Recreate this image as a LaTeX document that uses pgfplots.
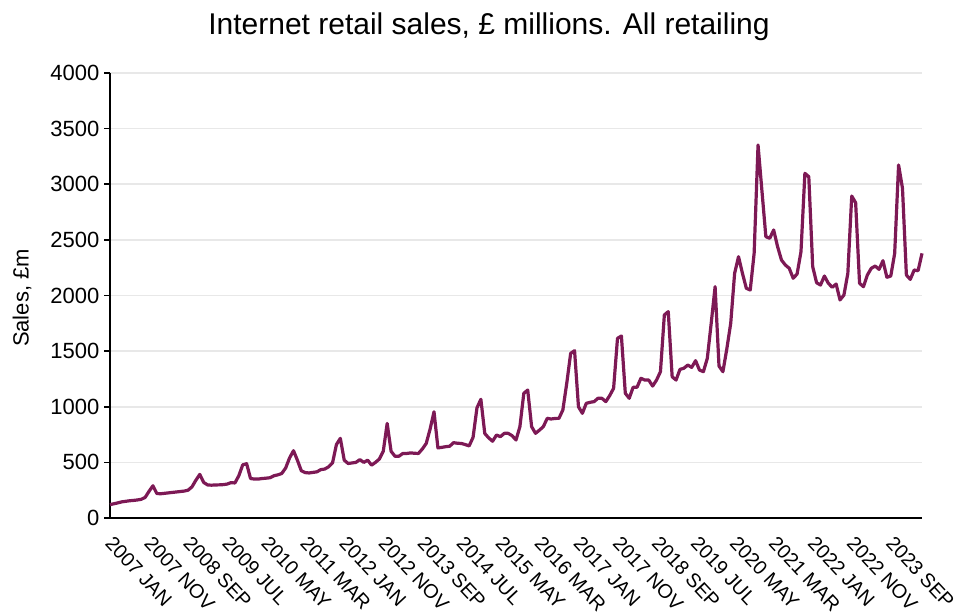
\documentclass[border=0pt]{standalone}
\usepackage{pgfplots}
\pgfplotsset{compat=1.18}
\usepackage{fontspec}
\setmainfont{Liberation Sans}
\definecolor{lineC}{RGB}{125,25,85}
\definecolor{gridC}{RGB}{232,232,232}
\begin{document}
\begin{tikzpicture}
\useasboundingbox (0,0) rectangle (715.5pt,461.25pt);
\begin{axis}[
  at={(82.5pt,72.75pt)}, anchor=south west,
  scale only axis, width=609pt, height=333.75pt,
  xmin=0, xmax=208, ymin=0, ymax=4000,
  clip=false,
  axis x line*=bottom, axis y line*=left,
  axis line style={black, line width=1.6pt, -},
  ytick={0,500,...,4000},
  ymajorgrids, grid style={gridC, line width=1.2pt},
  tick align=outside, major tick length=4.5pt,
  ytick style={black, line width=1.2pt},
  xtick style={draw=none},
  xtick={0,10,...,200},
  xticklabels={2007 JAN,2007 NOV,2008 SEP,2009 JUL,2010 MAY,2011 MAR,2012 JAN,2012 NOV,2013 SEP,2014 JUL,2015 MAY,2016 MAR,2017 JAN,2017 NOV,2018 SEP,2019 JUL,2020 MAY,2021 MAR,2022 JAN,2022 NOV,2023 SEP},
  xticklabel style={rotate=-47, anchor=north west, font=\fontsize{14.8}{16}\selectfont, inner sep=1pt, xshift=7pt, yshift=-2pt},
  yticklabel style={font=\fontsize{16.5}{18}\selectfont},
  /pgf/number format/assume math mode=true,
  /pgf/number format/1000 sep={},
]
\addplot[lineC, line width=2.4pt, line join=round] coordinates {
(0,120) (1,128) (2,136) (3,145) (4,150) (5,155) (6,158) (7,162) (8,168) (9,185) (10,240) (11,290)
(12,220) (13,218) (14,222) (15,226) (16,230) (17,234) (18,238) (19,242) (20,250) (21,280) (22,340) (23,392)
(24,320) (25,297) (26,295) (27,297) (28,298) (29,300) (30,305) (31,318) (32,315) (33,380) (34,478) (35,488)
(36,355) (37,350) (38,350) (39,355) (40,358) (41,362) (42,380) (43,388) (44,400) (45,450) (46,540) (47,605)
(48,520) (49,425) (50,408) (51,405) (52,410) (53,415) (54,435) (55,440) (56,460) (57,495) (58,660) (59,716)
(60,520) (61,490) (62,495) (63,500) (64,525) (65,500) (66,520) (67,475) (68,500) (69,530) (70,600) (71,850)
(72,600) (73,555) (74,555) (75,580) (76,580) (77,585) (78,582) (79,580) (80,620) (81,670) (82,800) (83,955)
(84,630) (85,635) (86,641) (87,645) (88,677) (89,672) (90,670) (91,660) (92,648) (93,725) (94,990) (95,1067)
(96,760) (97,720) (98,690) (99,746) (100,731) (101,761) (102,761) (103,740) (104,701) (105,821) (106,1121) (107,1150)
(108,821) (109,761) (110,790) (111,821) (112,896) (113,890) (114,895) (115,896) (116,971) (117,1211) (118,1480) (119,1504)
(120,1000) (121,941) (122,1031) (123,1040) (124,1046) (125,1076) (126,1076) (127,1046) (128,1100) (129,1166) (130,1615) (131,1636)
(132,1121) (133,1076) (134,1175) (135,1175) (136,1256) (137,1240) (138,1240) (139,1186) (140,1240) (141,1315) (142,1825) (143,1855)
(144,1270) (145,1240) (146,1336) (147,1346) (148,1375) (149,1354) (150,1414) (151,1330) (152,1315) (153,1435) (154,1750) (155,2079)
(156,1366) (157,1315) (158,1520) (159,1750) (160,2199) (161,2349) (162,2200) (163,2065) (164,2049) (165,2379) (166,3353) (167,2940)
(168,2529) (169,2514) (170,2589) (171,2440) (172,2319) (173,2274) (174,2244) (175,2155) (176,2193) (177,2394) (178,3098) (179,3068)
(180,2259) (181,2115) (182,2094) (183,2175) (184,2110) (185,2074) (186,2103) (187,1960) (188,2004) (189,2199) (190,2894) (191,2834)
(192,2110) (193,2079) (194,2184) (195,2244) (196,2265) (197,2235) (198,2313) (199,2164) (200,2175) (201,2379) (202,3173) (203,2964)
(204,2184) (205,2145) (206,2229) (207,2223) (208,2379)
};
\end{axis}
\node[font=\fontsize{22.5}{26}\selectfont] at (366.75pt,441pt) {Internet retail sales, £ millions. All retailing};
\node[rotate=90, font=\fontsize{16.5}{18}\selectfont] at (16.5pt,237.75pt) {Sales, £m};
\end{tikzpicture}
\end{document}
